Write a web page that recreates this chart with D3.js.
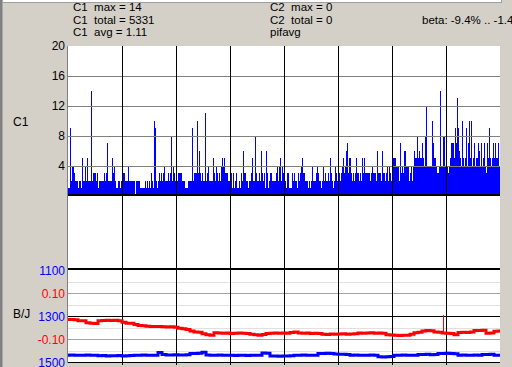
<!DOCTYPE html>
<html><head><meta charset="utf-8">
<script src="https://cdn.jsdelivr.net/npm/d3@7/dist/d3.min.js"></script>
<style>html,body{margin:0;padding:0;background:#d4d0c8;overflow:hidden}svg{display:block}</style>
</head><body>
<svg id="chart" width="512" height="367"></svg>
<script>
// C1 counts, one value per plotted column
const c1Values = [
1,1,9,2,4,4,3,2,2,2, 1,2,2,1,5,2,2,4,2,5, 2,2,2,14,2,3,3,3,2,3, 1,2,2,2,2,2,3,2,3,7,
2,2,2,2,5,3,4,2,1,1, 2,2,1,2,1,3,3,2,2,2, 4,2,2,2,2,2,2,0,2,2, 2,2,1,1,1,1,1,2,1,2,
1,2,1,3,2,1,10,9,2,1, 2,3,2,3,2,3,4,2,2,2, 3,2,3,8,2,4,3,2,
2,2,3,3,3,3,2,2,2,1, 1,1,2,2,2,2,9,2,3,3, 3,10,3,6,3,2,3,2,2,11, 2,3,4,2,2,2,2,5,3,2,
4,3,2,3,2,4,5,4,5,3, 3,3,2,2,3,3,1,3,1,2, 3,1,1,2,1,3,2,6,3,3, 2,2,1,2,2,3,5,2,2,8,
3,2,2,3,2,6,3,2,3,1, 6,3,1,2,3,3,2,2,2,2, 3,4,2,4,5,2,
4,3,3,2,1,3,3,1,1,1, 3,2,3,2,2,1,3,2,3,4, 5,3,3,2,2,2,1,2,1,2, 4,2,2,2,3,4,3,2,2,1,
2,4,2,3,2,2,3,2,5,3, 2,1,2,4,3,2,2,3,2,3, 4,5,3,4,6,7,3,5,5,3, 2,3,2,3,5,3,3,2,3,2,
5,3,5,3,3,3,3,3,2,3, 4,3,3,3,2,6,3,3,3,2, 6,3,3,2,3,4,2,4,3,2,
5,5,5,5,4,4,4,2,7,3, 4,3,6,6,4,4,4,2,3,4, 2,4,6,5,5,8,5,6,5,5, 7,5,4,8,12,4,4,4,4,4,
10,7,5,5,4,3,3,4,14,4, 4,8,8,4,4,4,3,4,5,7, 7,7,5,9,7,13,9,6,5,4, 10,5,4,5,9,4,7,10,5,10,
4,5,7,4,5,5,7,6,4,7, 4,5,7,4,3,7,5,9,5,4, 5,7,5,7,5,5,7,4
];
const c1Ticks = [4, 8, 12, 16, 20];
const timeDivisions = [1, 2, 3, 4, 5, 6, 7];

// B/J panel series (109 samples across the time axis)
const redValues = [
-0.013,-0.013,-0.014,-0.018,-0.018,-0.027,-0.029,-0.030,-0.019,-0.017,
-0.016,-0.017,-0.016,-0.018,-0.025,-0.029,-0.029,-0.035,-0.039,-0.040,
-0.042,-0.044,-0.044,-0.043,-0.045,-0.046,-0.045,-0.047,-0.051,-0.053,
-0.057,-0.063,-0.067,-0.069,-0.075,-0.079,-0.081,-0.071,-0.072,-0.073,
-0.072,-0.074,-0.073,-0.072,-0.073,-0.074,-0.077,-0.079,-0.081,-0.078,
-0.074,-0.073,-0.072,-0.073,-0.072,-0.073,-0.070,-0.067,-0.072,-0.073,
-0.072,-0.074,-0.073,-0.074,-0.077,-0.078,-0.076,-0.077,-0.076,-0.075,
-0.077,-0.076,-0.075,-0.072,-0.073,-0.072,-0.071,-0.073,-0.072,-0.073,
-0.079,-0.080,-0.082,-0.083,-0.081,-0.082,-0.077,-0.071,-0.069,-0.063,
-0.061,-0.062,-0.067,-0.068,-0.072,-0.073,-0.074,-0.079,-0.070,-0.069,
-0.070,-0.067,-0.061,-0.061,-0.060,-0.073,-0.072,-0.064,-0.063
];
const blueValues = [
1468,1467,1469,1468,1468,1467,1469,1468,
1471,1470,1472,1471,1471,1470,1472,1471,1470,
1468,1468,1467,1469,1468,1468,
1456,1465,
1467,1467,1466,1467,1467,1466,
1461,1461,1460,1455,
1467,1468,1468,1467,1468,1468,
1469,1470,1469,1469,1470,1469,1469,1468,
1459,1460,
1472,1472,1473,1472,1472,1471,
1468,1468,1467,1468,1469,1468,
1461,1461,1460,1461,1463,
1464,1464,1465,
1468,1467,1468,1469,1468,1467,1468,
1475,1476,1475,1474,
1468,1468,1467,1468,1469,1468,
1465,1465,1464,1466,1465,
1461,1461,1460,1461,1462,
1468,1467,1468,1468,1467,1468,
1465,1465,1464,
1469,1469
];
const redSpikeIndex = [375];
const redSpikeValues = [0.005];
const blueTicks = [1100, 1300, 1500];
const redTicks = [0.10, -0.10];
const redGridLight = [0.15, 0.05, -0.05, -0.15];
const redGridMid = [0.10, -0.10];
const redGridDark = [0, -0.2];

const headerCol1 = ["C1  max = 14", "C1  total = 5331", "C1  avg = 1.11"];
const headerCol2 = ["C2  max = 0", "C2  total = 0", "pifavg"];
const betaText = "beta: -9.4% .. -1.49";

const svg = d3.select("#chart");
const FONT = "Liberation Sans, Arial, sans-serif";
const L = 68, R = 500;

// frame pieces
svg.append("rect").attr("x",0).attr("y",0).attr("width",512).attr("height",367).attr("fill","#d4d0c8");
svg.append("rect").attr("x",0).attr("y",0).attr("width",2).attr("height",367).attr("fill","#808080");
svg.append("rect").attr("x",2).attr("y",0).attr("width",1).attr("height",367).attr("fill","#a8a8a8");
svg.append("rect").attr("x",3).attr("y",0).attr("width",498).attr("height",2).attr("fill","#ffffff");
svg.append("rect").attr("x",3).attr("y",2).attr("width",499).attr("height",1).attr("fill","#a0a0a0");
svg.append("rect").attr("x",501).attr("y",0).attr("width",1).attr("height",3).attr("fill","#a0a0a0");

// plot background
svg.append("rect").attr("x",L).attr("y",46).attr("width",R-L).attr("height",317).attr("fill","#ffffff");

// scales
const barX = d3.scaleBand().domain(d3.range(c1Values.length)).range([L, R]).padding(0);
const divX = d3.scaleLinear().domain([0, 8]).range([L, R]);
const c1Y = d3.scaleLinear().domain([0, 20]).range([195.5, 45.5]);
const lineX = d3.scaleLinear().domain([0, redValues.length - 1]).range([L, R]);
const redY = d3.scaleLinear().domain([-0.2, 0.2]).range([362.5, 270.5]);
const blueY = d3.scaleLinear().domain([1100, 1500]).range([270.5, 362.5]);

// bars
svg.append("g").attr("shape-rendering","crispEdges").selectAll("rect").data(c1Values).join("rect")
  .attr("x",(d,i)=>barX(i)).attr("width",barX.bandwidth())
  .attr("y",d=>c1Y(d)).attr("height",d=>195.5-c1Y(d)).attr("fill","#0000ff");

// C1 gridlines
svg.append("g").attr("shape-rendering","crispEdges").selectAll("line").data(c1Ticks.filter(t=>t<20)).join("line")
  .attr("x1",L).attr("x2",R).attr("y1",d=>Math.round(c1Y(d))+0.5).attr("y2",d=>Math.round(c1Y(d))+0.5)
  .attr("stroke","#808080").attr("stroke-width",1);

// lower grid
const gLow = svg.append("g").attr("shape-rendering","crispEdges");
function hline(vals, col){
  gLow.selectAll(null).data(vals).join("line")
    .attr("x1",L).attr("x2",R).attr("y1",d=>Math.floor(redY(d))+0.5).attr("y2",d=>Math.floor(redY(d))+0.5)
    .attr("stroke",col).attr("stroke-width",1);
}
hline(redGridLight,"#e0e0e0");
hline(redGridMid,"#a4a4a4");
hline(redGridDark,"#000000");

// vertical time divisions
svg.append("g").attr("shape-rendering","crispEdges").selectAll("line").data(timeDivisions).join("line")
  .attr("x1",d=>Math.round(divX(d))+0.5).attr("x2",d=>Math.round(divX(d))+0.5)
  .attr("y1",46).attr("y2",365).attr("stroke","#000").attr("stroke-width",1);

// left border
svg.append("line").attr("x1",L-0.5).attr("x2",L-0.5).attr("y1",46).attr("y2",363).attr("stroke","#808080").attr("shape-rendering","crispEdges");

// panel separators
svg.append("rect").attr("x",L).attr("y",194).attr("width",R-L).attr("height",2).attr("fill","#000");
svg.append("rect").attr("x",L).attr("y",268).attr("width",R-L).attr("height",2).attr("fill","#000");

// series lines
const redLine = d3.line().x((d,i)=>lineX(i)).y(d=>redY(d)).curve(d3.curveStep);
const blueLine = d3.line().x((d,i)=>lineX(i)).y(d=>blueY(d)).curve(d3.curveStep);
svg.append("path").datum(redValues).attr("d",redLine).attr("fill","none").attr("stroke","#ff0000").attr("stroke-width",3);
svg.append("path").datum(blueValues).attr("d",blueLine).attr("fill","none").attr("stroke","#0000ff").attr("stroke-width",3);
svg.append("g").selectAll("line").data(redSpikeIndex).join("line")
  .attr("x1",d=>barX(d)+0.5).attr("x2",d=>barX(d)+0.5)
  .attr("y1",(d,i)=>redY(redSpikeValues[i])).attr("y2",d=>redY(redValues[Math.round(d/4)]))
  .attr("stroke","#ff0000").attr("stroke-width",1).attr("shape-rendering","crispEdges");

// C1 tick labels
svg.append("g").selectAll("text").data(c1Ticks).join("text")
  .attr("x",65).attr("y",d=>c1Y(d)+4.5).attr("text-anchor","end")
  .attr("font-family",FONT).attr("font-size","12px").attr("fill","#000").text(d=>d);

// lower tick labels
svg.append("g").selectAll("text").data(blueTicks).join("text")
  .attr("x",65).attr("y",d=>blueY(d)+4.5).attr("text-anchor","end")
  .attr("font-family",FONT).attr("font-size","12px").attr("fill","#0000ff").text(d=>d);
svg.append("g").selectAll("text").data(redTicks).join("text")
  .attr("x",65).attr("y",d=>redY(d)+4.5).attr("text-anchor","end")
  .attr("font-family",FONT).attr("font-size","12px").attr("fill","#ff0000").text(d=>d.toFixed(2));

// panel labels
svg.append("text").attr("x",13).attr("y",125.5).attr("font-family",FONT).attr("font-size","12px").text("C1");
svg.append("text").attr("x",13).attr("y",317.5).attr("font-family",FONT).attr("font-size","12px").text("B/J");

// header
const hy = [11, 23.5, 36];
svg.append("g").selectAll("text").data(headerCol1).join("text")
  .attr("x",73).attr("y",(d,i)=>hy[i]).attr("font-family",FONT).attr("font-size","11.5px").attr("xml:space","preserve")
  .style("white-space","pre").text(d=>d);
svg.append("g").selectAll("text").data(headerCol2).join("text")
  .attr("x",270).attr("y",(d,i)=>hy[i]).attr("font-family",FONT).attr("font-size","11.5px")
  .style("white-space","pre").text(d=>d);
svg.append("text").attr("x",422).attr("y",hy[1]).attr("font-family",FONT).attr("font-size","11.5px").text(betaText);
</script>
</body></html>
